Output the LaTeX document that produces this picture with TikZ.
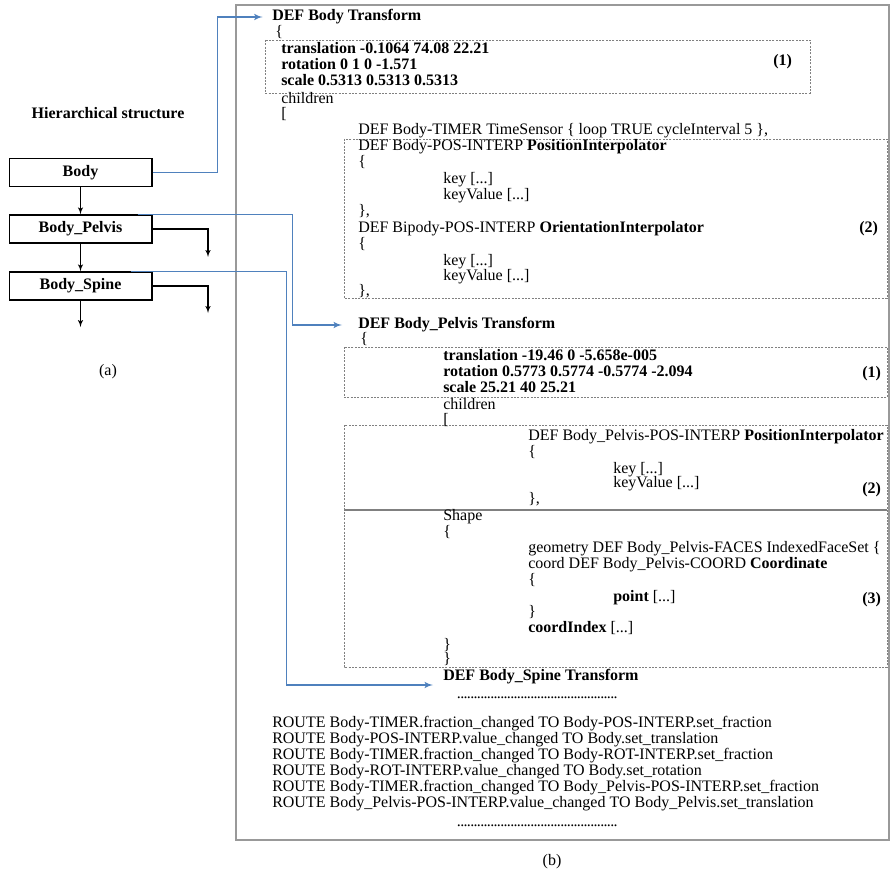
\documentclass[tikz,border=0pt]{standalone}
\usepackage{fontspec}
\setmainfont{Liberation Serif}
\usetikzlibrary{positioning}
\usetikzlibrary{arrows}
\usetikzlibrary{calc}
\definecolor{linkblue}{RGB}{79,129,189}
\tikzset{>=latex'}
\tikzset{code/.style={anchor=west, inner sep=0pt, text height=8pt, text depth=2.5pt, font=\fontsize{12}{14}\selectfont}}
\tikzset{bcode/.style={code, font=\fontsize{12}{14}\selectfont\bfseries}}
\tikzset{joint/.style={draw, line width=1pt, minimum width=107pt, minimum height=21pt, inner sep=0pt, font=\fontsize{12}{14}\selectfont\bfseries}}
\tikzset{part/.style={draw=gray, dash pattern=on 1.5pt off 1pt, line width=0.6pt}}
\tikzset{link/.style={draw=linkblue, line width=1.2pt, ->}}
\tikzset{frame/.style={draw=gray!80, line width=1.6pt}}
\newcommand{\dotrow}{\makebox[120pt]{\leaders\hbox to 2.5pt{\hss.\hss}\hfill}}

\begin{document}
\begin{tikzpicture}[x=0.75pt, y=-0.75pt]
\useasboundingbox (0,0) rectangle (891,880);

% hierarchy
\node[bcode, anchor=center] (hier) at (108,115) {Hierarchical structure};
\node[joint] (body) at (80.5,172.5) {Body};
\node[joint] (pelvis) at (80.5,229) {Body\_Pelvis};
\node[joint] (spine) at (80.5,286) {Body\_Spine};
\node[code, anchor=center] (capa) at (108,372) {(a)};

\coordinate (pelvisout) at (208,257);
\coordinate (spineout) at (208,313);
\coordinate (spinedown) at (80.5,327);

\draw[->, line width=0.8pt] (body) -- (pelvis);
\draw[->, line width=0.8pt] (pelvis) -- (spine);
\draw[->, line width=0.8pt] (spine) -- (spinedown);
\draw[->, line width=0.8pt] (pelvis.east) -| (pelvisout);
\draw[->, line width=0.8pt] (spine.east) -| (spineout);

% file listing
\draw[frame] (236,5) rectangle (889,840);
\draw[part] (265,40) rectangle (810,93);
\draw[part] (344,139) rectangle (887,298);
\draw[part] (344,347) rectangle (887,397);
\draw[part] (344,425) rectangle (887,667);
\draw[gray, line width=1pt] (344,510) -- (887,510);

\node[bcode] (defbody) at (272,17) {DEF Body Transform};
\node[code] (bopen) at (275,33) {\{};
\node[bcode] (btrans) at (281,50) {translation -0.1064 74.08 22.21};
\node[bcode] (brot) at (281,66) {rotation 0 1 0 -1.571};
\node[bcode] (bscale) at (281,82) {scale 0.5313 0.5313 0.5313};
\node[bcode] (bnum1) at (773,62) {(1)};
\node[code] (bchild) at (281,100) {children};
\node[code] (bbrack) at (281,115) {[};
\node[code] (btimer) at (358,131) {DEF Body-TIMER TimeSensor \{ loop TRUE cycleInterval 5 \},};
\node[code] (bpos) at (358,147) {DEF Body-POS-INTERP \textbf{PositionInterpolator}};
\node[code] (bposa) at (358,163) {\{};
\node[code] (bposk) at (443,180) {key [...]};
\node[code] (bposv) at (443,196) {keyValue [...]};
\node[code] (bposb) at (358,212) {\},};
\node[code] (bori) at (358,229) {DEF Bipody-POS-INTERP \textbf{OrientationInterpolator}};
\node[code] (boria) at (358,245) {\{};
\node[code] (bork) at (443,262) {key [...]};
\node[code] (borv) at (443,277) {keyValue [...]};
\node[code] (borib) at (358,292) {\},};
\node[bcode] (bnum2) at (859,229) {(2)};

\node[bcode] (defpelvis) at (358,325) {DEF Body\_Pelvis Transform};
\node[code] (popen) at (360,340) {\{};
\node[bcode] (ptrans) at (443,357) {translation -19.46 0 -5.658e-005};
\node[bcode] (prot) at (443,373) {rotation 0.5773 0.5774 -0.5774 -2.094};
\node[bcode] (pscale) at (443,389) {scale 25.21 40 25.21};
\node[bcode] (pnum1) at (862,374) {(1)};
\node[code] (pchild) at (443,406) {children};
\node[code] (pbrack) at (443,421) {[};
\node[code] (ppos) at (528,437) {DEF Body\_Pelvis-POS-INTERP \textbf{PositionInterpolator}};
\node[code] (pposa) at (528,453) {\{};
\node[code] (pposk) at (613,470) {key [...]};
\node[code] (pposv) at (613,484) {keyValue [...]};
\node[code] (pposb) at (528,500) {\},};
\node[bcode] (pnum2) at (862,490) {(2)};
\node[code] (pshape) at (443,517) {Shape};
\node[code] (pshapea) at (443,533) {\{};
\node[code] (pgeo) at (528,549) {geometry DEF Body\_Pelvis-FACES IndexedFaceSet \{};
\node[code] (pcoord) at (528,565) {coord DEF Body\_Pelvis-COORD \textbf{Coordinate}};
\node[code] (pcoorda) at (528,581) {\{};
\node[code] (ppoint) at (613,598) {\textbf{point} [...]};
\node[code] (pcoordb) at (528,613) {\}};
\node[code] (pindex) at (528,629) {\textbf{coordIndex} [...]};
\node[bcode] (pnum3) at (862,600) {(3)};
\node[code] (pshapeb) at (443,646) {\}};
\node[code] (pclose) at (443,660) {\}};

\node[bcode] (defspine) at (443,677) {DEF Body\_Spine Transform};
\node[code] (sdots) at (457,695) {\dotrow};
\coordinate (spinetip) at (433,685);

\foreach \txt [count=\i] in {%
  ROUTE Body-TIMER.fraction\_changed TO Body-POS-INTERP.set\_fraction,
  ROUTE Body-POS-INTERP.value\_changed TO Body.set\_translation,
  ROUTE Body-TIMER.fraction\_changed TO Body-ROT-INTERP.set\_fraction,
  ROUTE Body-ROT-INTERP.value\_changed TO Body.set\_rotation,
  ROUTE Body-TIMER.fraction\_changed TO Body\_Pelvis-POS-INTERP.set\_fraction,
  ROUTE Body\_Pelvis-POS-INTERP.value\_changed TO Body\_Pelvis.set\_translation}
  \node[code] (route\i) at (272,708+16*\i) {\txt};
\node[code] (rdots) at (457,823) {\dotrow};

\node[code, anchor=center] (capb) at (552,862) {(b)};

% links from hierarchy to listing
\draw[link, shorten >=7pt] (body.east) -- ++(65,0) |- (defbody.west);
\draw[link, shorten >=12pt] ($(pelvis.north east)+(-15,0)$) -- ++(155,0) |- (defpelvis.west);
\draw[link] ($(spine.north east)+(-22,0)$) -- ++(156,0) |- (spinetip);
\end{tikzpicture}
\end{document}
